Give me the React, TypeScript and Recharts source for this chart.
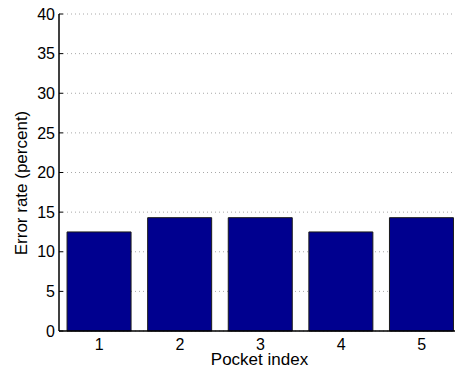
import React from 'react';
import { BarChart, Bar, XAxis, YAxis, CartesianGrid, Label } from 'recharts';

const pockets = ['1', '2', '3', '4', '5'];
const errorRates = [12.5, 14.3, 14.3, 12.5, 14.3];
const yTicks = [0, 5, 10, 15, 20, 25, 30, 35, 40];

const data = pockets.map((p, i) => ({ pocket: p, rate: errorRates[i] }));

const FONT = '"Liberation Sans", Arial, Helvetica, sans-serif';

const YLabel = (props: any) => {
  const vb = props.viewBox || {};
  const cx = 21;
  const cy = 183;
  return (
    <text
      x={cx}
      y={cy}
      transform={`rotate(-90 ${cx} ${cy})`}
      textAnchor="middle"
      dominantBaseline="central"
      fontSize={17}
      fontFamily={FONT}
      fill="#000"
    >
      Error rate (percent)
    </text>
  );
};

const XLabel = (props: any) => {
  const vb = props.viewBox || {};
  const cx = 259.5;
  return (
    <text x={cx} y={365} textAnchor="middle" fontSize={17} fontFamily={FONT} fill="#000">
      Pocket index
    </text>
  );
};

export default function App() {
  return (
    <div
      style={{
        position: 'absolute',
        left: 0,
        top: 0,
        width: 455,
        height: 373,
        overflow: 'hidden',
        background: '#fff',
      }}
    >
      <BarChart
        width={462}
        height={373}
        data={data}
        margin={{ top: 14, right: 0, bottom: 0, left: 0 }}
        barCategoryGap="10%"
      >
        <CartesianGrid
          vertical={false}
          stroke="#a8a8a8"
          strokeDasharray="1 3"
        />
        <XAxis
          dataKey="pocket"
          height={42}
          axisLine={{ stroke: '#000', strokeWidth: 1.5 }}
          tickLine={false}
          tickSize={0}
          tickMargin={8}
          tick={{ fill: '#000', fontSize: 16, fontFamily: FONT }}
        >
          <Label content={<XLabel />} />
        </XAxis>
        <XAxis
          xAxisId="top"
          orientation="top"
          dataKey="pocket"
          height={0}
          axisLine={{ stroke: '#000', strokeWidth: 1.5 }}
          tickLine={{ stroke: '#000' }}
          tickSize={-4}
          tickFormatter={() => ''}
        />
        <YAxis
          width={59}
          domain={[0, 40]}
          ticks={yTicks}
          interval={0}
          axisLine={{ stroke: '#000', strokeWidth: 1.5 }}
          tickLine={{ stroke: '#000' }}
          tickSize={-4}
          tickMargin={8}
          tick={{ fill: '#000', fontSize: 16, fontFamily: FONT }}
        >
          <Label content={<YLabel />} />
        </YAxis>
        <Bar
          dataKey="rate"
          fill="#00008F"
          stroke="#1a1a1a"
          strokeWidth={1}
          isAnimationActive={false}
        />
      </BarChart>
    </div>
  );
}
